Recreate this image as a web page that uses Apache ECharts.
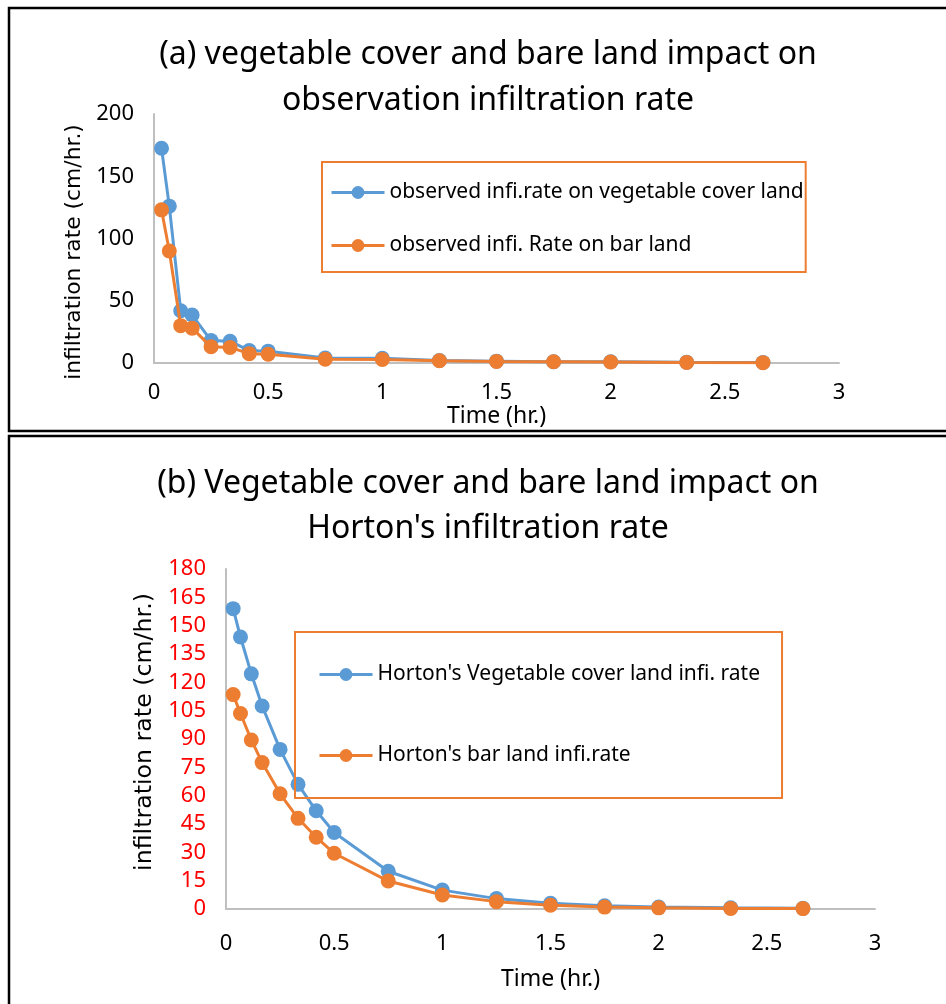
<!DOCTYPE html>
<html>
<head>
<meta charset="utf-8">
<script src="https://cdn.jsdelivr.net/npm/echarts@6/dist/echarts.min.js"></script>
<style>
  html, body { margin: 0; padding: 0; background: #fff; }
  #main { width: 946px; height: 1004px; }
</style>
</head>
<body>
<div id="main"></div>
<script>
// time in hours (2, 4, 7, 10, 15, 20, 25, 30, 45, 60, 75, 90, 105, 120, 140, 160 min)
var timeHr = [0.033, 0.067, 0.117, 0.167, 0.25, 0.333, 0.417, 0.5, 0.75, 1, 1.25, 1.5, 1.75, 2, 2.333, 2.667];

// (a) observed
var obsVeg = [172.5, 126, 42, 38.5, 18, 17.5, 10, 9.5, 4, 3.8, 2, 1.5, 1, 1, 0.6, 0.4];
var obsBar = [123, 90, 30, 28, 13, 12.5, 7.5, 7, 3, 2.8, 1.8, 1.3, 1, 0.8, 0.5, 0.3];

// (b) Horton
var hortonVeg = [159, 144, 124.5, 107.5, 84.5, 66, 52, 40.5, 20, 10, 5.5, 3, 1.7, 1, 0.6, 0.4];
var hortonBar = [113.5, 103.5, 89.5, 77.5, 61, 48, 38, 29.5, 14.8, 7.4, 3.9, 2, 1, 0.6, 0.3, 0.2];

var names = [
    'observed infi.rate on vegetable cover land',
    'observed infi. Rate on bar land',
    "Horton's Vegetable cover land infi. rate",
    "Horton's bar land infi.rate"
];

var blue = '#5B9BD5', orange = '#ED7D31';
var font = 'Noto Sans';

function pairs(xs, ys) {
    var out = [];
    for (var i = 0; i < xs.length; i++) out.push([xs[i], ys[i]]);
    return out;
}

function lineSeries(name, color, idx, values) {
    return {
        name: name,
        type: 'line',
        xAxisIndex: idx,
        yAxisIndex: idx,
        data: pairs(timeHr, values),
        symbol: 'circle',
        symbolSize: 15,
        itemStyle: { color: color },
        lineStyle: { color: color, width: 3 },
        emphasis: { disabled: true },
        z: idx === 0 && color === orange ? 3 : 2
    };
}

var axisLineStyle = { show: true, lineStyle: { color: '#BFBFBF', width: 2 } };

function xAxisOf(idx, labelMargin, nameGap) {
    return {
        type: 'value', gridIndex: idx, min: 0, max: 3, interval: 0.5,
        name: 'Time (hr.)', nameLocation: 'middle', nameGap: nameGap,
        nameTextStyle: { fontFamily: font, fontSize: 23, color: '#000' },
        axisLine: axisLineStyle, axisTick: { show: false }, splitLine: { show: false },
        axisLabel: { fontFamily: font, fontSize: 22, color: '#000', margin: labelMargin }
    };
}

// namePad shifts the rotated name along the axis (local right padding moves it down)
function yAxisOf(idx, max, interval, color, nameGap, nameSize, namePad) {
    return {
        type: 'value', gridIndex: idx, min: 0, max: max, interval: interval,
        name: 'infiltration rate (cm/hr.)', nameLocation: 'middle', nameGap: nameGap,
        nameTextStyle: { fontFamily: 'DejaVu Sans', fontSize: nameSize, color: '#000', padding: namePad },
        axisLine: axisLineStyle, axisTick: { show: false }, splitLine: { show: false },
        axisLabel: { fontFamily: font, fontSize: 22, color: color, margin: 20 }
    };
}

var myChart = echarts.init(document.getElementById('main'));
var option = {
    backgroundColor: '#fff',
    animation: false,
    title: [{
        text: '(a) vegetable cover and bare land impact on\nobservation infiltration rate',
        left: 483, top: 27, textAlign: 'center',
        textStyle: { fontFamily: font, fontSize: 32, fontWeight: 'normal', color: '#000', lineHeight: 46 }
    }, {
        text: "(b) Vegetable cover and bare land impact on\nHorton's infiltration rate",
        left: 483, top: 456, textAlign: 'center',
        textStyle: { fontFamily: font, fontSize: 32, fontWeight: 'normal', color: '#000', lineHeight: 45 }
    }],
    legend: [{
        data: [names[0], names[1]],
        orient: 'vertical', left: 322, top: 162,
        borderColor: orange, borderWidth: 2, borderRadius: 0,
        padding: [20, 2, 16, 8], itemGap: 32,
        itemWidth: 53, itemHeight: 16,
        lineStyle: { width: 3 },
        textStyle: { fontFamily: font, fontSize: 21, color: '#000' }
    }, {
        data: [names[2], names[3]],
        orient: 'vertical', left: 295, top: 632,
        borderColor: orange, borderWidth: 2, borderRadius: 0,
        padding: [32, 22, 32, 23], itemGap: 60,
        itemWidth: 53, itemHeight: 16,
        lineStyle: { width: 3 },
        textStyle: { fontFamily: font, fontSize: 21, color: '#000' }
    }],
    grid: [
        { left: 154, top: 114, width: 685, height: 249 },
        { left: 226, top: 569, width: 649, height: 340 }
    ],
    xAxis: [xAxisOf(0, 19, 34), xAxisOf(1, 24, 59)],
    yAxis: [
        yAxisOf(0, 200, 50, '#000', 68, 21.8, [0, 27, 0, 0]),
        yAxisOf(1, 180, 15, '#FF0000', 68, 23.7, [0, 0, 0, 14])
    ],
    series: [
        lineSeries(names[0], blue, 0, obsVeg),
        lineSeries(names[1], orange, 0, obsBar),
        lineSeries(names[2], blue, 1, hortonVeg),
        lineSeries(names[3], orange, 1, hortonBar)
    ],
    graphic: [{
        type: 'rect', silent: true, z: 100,
        shape: { x: 9, y: 8, width: 980, height: 423 },
        style: { fill: 'none', stroke: '#000', lineWidth: 2.5 }
    }, {
        type: 'rect', silent: true, z: 100,
        shape: { x: 9, y: 436, width: 980, height: 620 },
        style: { fill: 'none', stroke: '#000', lineWidth: 2.5 }
    }]
};
myChart.setOption(option);
</script>
</body>
</html>
